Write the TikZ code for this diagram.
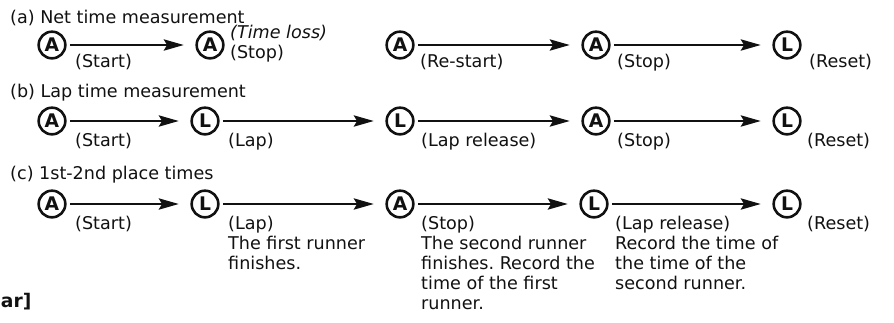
\documentclass[tikz,border=0pt]{standalone}
\usepackage{fontspec}
\setmainfont{DejaVu Sans}
\usetikzlibrary{arrows.meta}
\definecolor{ink}{HTML}{111111}
\newcommand{\txtsize}{\fontsize{15pt}{17pt}\selectfont}
\frenchspacing
\tikzset{
	key/.style={circle, draw=ink, line width=2.2pt, minimum size=0.8cm, inner sep=0pt, text=ink, font=\fontsize{16pt}{16pt}\selectfont\bfseries},
	lbl/.style={anchor=north west, inner sep=0pt, align=left, text=ink, font=\txtsize},
	ttl/.style={anchor=base west, inner sep=0pt, text=ink, font=\txtsize},
	go/.style={draw=ink, line width=1.5pt, -{Stealth[length=0.6cm, width=0.34cm, inset=0.1cm]}, shorten <=0.1cm, shorten >=0.35cm},
}

\begin{document}
\begin{tikzpicture}
	\useasboundingbox (0,0) rectangle (26.82,-9.66);
	% (a) net time
	\node[ttl] (ta) at (0.3,-0.7) {(a) Net time measurement};
	\node[key] (a1) at (1.56,-1.35) {A};
	\node[key] (a2) at (6.3,-1.35) {A};
	\node[key] (a3) at (12.0,-1.35) {A};
	\node[key] (a4) at (17.88,-1.35) {A};
	\node[key] (a5) at (23.61,-1.35) {L};
	\draw[go] (a1) -- (a2);
	\draw[go] (a3) -- (a4);
	\draw[go] (a4) -- (a5);
	\node[lbl] (la1) at (2.25,-1.62) {(Start)};
	\node[lbl, anchor=west] (la2) at (6.9,-1.0) {\itshape (Time loss)};
	\node[lbl, anchor=west] (la3) at (6.9,-1.6) {(Stop)};
	\node[lbl] (la4) at (12.6,-1.62) {(Re-start)};
	\node[lbl] (la5) at (18.51,-1.62) {(Stop)};
	\node[lbl] (la6) at (24.27,-1.62) {(Reset)};
	% (b) lap time
	\node[ttl] (tb) at (0.3,-2.91) {(b) Lap time measurement};
	\node[key] (b1) at (1.56,-3.63) {A};
	\node[key] (b2) at (6.15,-3.63) {L};
	\node[key] (b3) at (12.0,-3.63) {L};
	\node[key] (b4) at (17.88,-3.63) {A};
	\node[key] (b5) at (23.61,-3.63) {L};
	\draw[go] (b1) -- (b2);
	\draw[go] (b2) -- (b3);
	\draw[go] (b3) -- (b4);
	\draw[go] (b4) -- (b5);
	\node[lbl] (lb1) at (2.25,-3.99) {(Start)};
	\node[lbl] (lb2) at (6.84,-3.99) {(Lap)};
	\node[lbl] (lb3) at (12.63,-3.99) {(Lap release)};
	\node[lbl] (lb4) at (18.51,-3.99) {(Stop)};
	\node[lbl] (lb5) at (24.21,-3.99) {(Reset)};
	% (c) 1st-2nd place
	\node[ttl] (tc) at (0.3,-5.37) {(c) 1st-2nd place times};
	\node[key] (c1) at (1.56,-6.12) {A};
	\node[key] (c2) at (6.15,-6.12) {L};
	\node[key] (c3) at (12.0,-6.12) {A};
	\node[key] (c4) at (17.82,-6.12) {L};
	\node[key] (c5) at (23.61,-6.12) {L};
	\draw[go] (c1) -- (c2);
	\draw[go] (c2) -- (c3);
	\draw[go] (c3) -- (c4);
	\draw[go] (c4) -- (c5);
	\node[lbl] (lc1) at (2.25,-6.48) {(Start)};
	\node[lbl] (lc2) at (6.84,-6.48) {(Lap)\\The first runner\\finishes.};
	\node[lbl] (lc3) at (12.63,-6.48) {(Stop)\\The second runner\\finishes. Record the\\time of the first\\runner.};
	\node[lbl] (lc4) at (18.45,-6.48) {(Lap release)\\Record the time of\\the time of the\\second runner.};
	\node[lbl] (lc5) at (24.21,-6.48) {(Reset)};
	\node[lbl, anchor=west, font=\fontsize{16pt}{16pt}\selectfont\bfseries] (cut) at (0.02,-9.06) {ar]};
\end{tikzpicture}
\end{document}
